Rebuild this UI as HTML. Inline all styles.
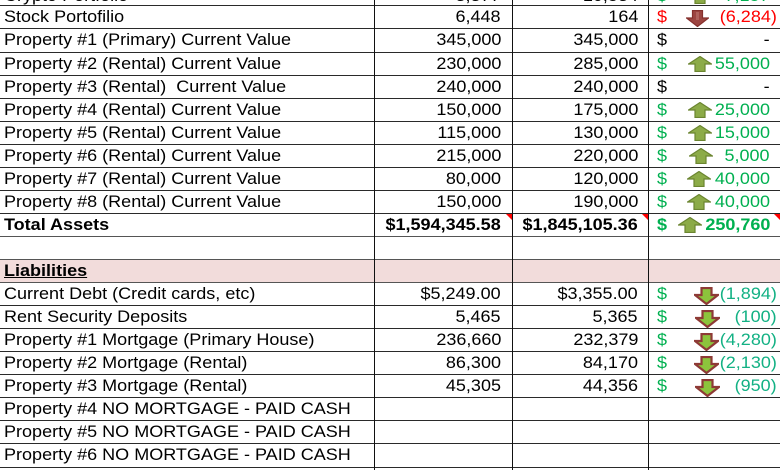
<!DOCTYPE html>
<html>
<head>
<meta charset="utf-8">
<style>
  html,body{margin:0;padding:0;background:#fff;}
  #w{position:relative;width:780px;height:470px;overflow:hidden;background:#fff;font-family:"Liberation Sans",Arial,sans-serif;color:#000;}
  .h{position:absolute;left:0;width:780px;height:1px;background:#2a2a2a;}
  .v{position:absolute;top:0;width:1px;height:470px;background:#111;}
  .c{position:absolute;height:23px;line-height:23px;font-size:17px;white-space:pre;transform:scaleX(1.06);transform-origin:0 0;}
  .r{transform-origin:100% 0;text-align:right;}
  .b{font-weight:bold;}
  .g{color:#00b050;}
  .t{color:#13b184;}
  .red{color:#ff0000;}
  .pink{position:absolute;left:0;width:780px;background:#f2dcdb;}
  svg{position:absolute;}
  .tri{position:absolute;width:0;height:0;border-top:6px solid #ff0000;border-left:6px solid transparent;}
</style>
</head>
<body>
<div id="w">
  <!-- pink Liabilities row -->
  <div class="pink" style="top:259px;height:23px;"></div>

  <!-- horizontal lines -->
  <div class="h" style="top:5px"></div>
  <div class="h" style="top:28px"></div>
  <div class="h" style="top:52px"></div>
  <div class="h" style="top:75px"></div>
  <div class="h" style="top:98px"></div>
  <div class="h" style="top:121px"></div>
  <div class="h" style="top:144px"></div>
  <div class="h" style="top:167px"></div>
  <div class="h" style="top:190px"></div>
  <div class="h" style="top:213px"></div>
  <div class="h" style="top:236px;background:#555"></div>
  <div class="h" style="top:259px;background:#555"></div>
  <div class="h" style="top:282px;background:#555"></div>
  <div class="h" style="top:305px"></div>
  <div class="h" style="top:328px"></div>
  <div class="h" style="top:351px"></div>
  <div class="h" style="top:374px"></div>
  <div class="h" style="top:397px"></div>
  <div class="h" style="top:420px"></div>
  <div class="h" style="top:443px"></div>
  <div class="h" style="top:467px"></div>

  <!-- vertical lines -->
  <div class="v" style="left:374px"></div>
  <div class="v" style="left:512px"></div>
  <div class="v" style="left:648px"></div>

  <!-- partial top row: Crypto Portfolio -->
  <div class="c" style="top:-16px;left:4px">Crypto Portfolio</div>
  <div class="c r" style="top:-16px;right:279px">3,377</div>
  <div class="c r" style="top:-16px;right:142px">10,534</div>
  <div class="c g" style="top:-16px;left:657px">$</div>
  <div class="c r g" style="top:-16px;right:10px">7,157</div>
  <svg style="left:688px;top:-12px" width="24" height="16" viewBox="0 0 24 16"><polygon points="12,0.5 23.5,8 17,8 17,15.5 7,15.5 7,8 0.5,8" fill="#8cab48" stroke="#6b8530" stroke-width="1.2"/></svg>

  <!-- Row 0: Stock -->
  <div class="c" style="top:5px;left:4px">Stock Portofilio</div>
  <div class="c r" style="top:5px;right:279px">6,448</div>
  <div class="c r" style="top:5px;right:142px">164</div>
  <div class="c red" style="top:5px;left:657px">$</div>
  <svg style="left:686px;top:10px" width="23" height="17" viewBox="0 0 23 17"><polygon points="6.5,0.5 16.5,0.5 16.5,8 22.5,8 11.5,16.5 0.5,8 6.5,8" fill="#9c4541" stroke="#85302d" stroke-width="1.2"/><rect x="10" y="2" width="3" height="8" fill="#b0625d"/></svg>
  <div class="c r red" style="top:5px;right:3px">(6,284)</div>

  <!-- Row 1 -->
  <div class="c" style="top:28px;left:4px">Property #1 (Primary) Current Value</div>
  <div class="c r" style="top:28px;right:279px">345,000</div>
  <div class="c r" style="top:28px;right:142px">345,000</div>
  <div class="c" style="top:28px;left:657px">$</div>
  <div class="c r" style="top:28px;right:10px">-</div>

  <!-- Row 2 -->
  <div class="c" style="top:52px;left:4px">Property #2 (Rental) Current Value</div>
  <div class="c r" style="top:52px;right:279px">230,000</div>
  <div class="c r" style="top:52px;right:142px">285,000</div>
  <div class="c g" style="top:52px;left:657px">$</div>
  <svg style="left:688px;top:56px" width="24" height="16" viewBox="0 0 24 16"><polygon points="12,0.5 23.5,8 17,8 17,15.5 7,15.5 7,8 0.5,8" fill="#8cab48" stroke="#6b8530" stroke-width="1.2"/></svg>
  <div class="c r g" style="top:52px;right:10px">55,000</div>

  <!-- Row 3 -->
  <div class="c" style="top:75px;left:4px">Property #3 (Rental)  Current Value</div>
  <div class="c r" style="top:75px;right:279px">240,000</div>
  <div class="c r" style="top:75px;right:142px">240,000</div>
  <div class="c" style="top:75px;left:657px">$</div>
  <div class="c r" style="top:75px;right:10px">-</div>

  <!-- Row 4 -->
  <div class="c" style="top:98px;left:4px">Property #4 (Rental) Current Value</div>
  <div class="c r" style="top:98px;right:279px">150,000</div>
  <div class="c r" style="top:98px;right:142px">175,000</div>
  <div class="c g" style="top:98px;left:657px">$</div>
  <svg style="left:688px;top:102px" width="24" height="16" viewBox="0 0 24 16"><polygon points="12,0.5 23.5,8 17,8 17,15.5 7,15.5 7,8 0.5,8" fill="#8cab48" stroke="#6b8530" stroke-width="1.2"/></svg>
  <div class="c r g" style="top:98px;right:10px">25,000</div>

  <!-- Row 5 -->
  <div class="c" style="top:121px;left:4px">Property #5 (Rental) Current Value</div>
  <div class="c r" style="top:121px;right:279px">115,000</div>
  <div class="c r" style="top:121px;right:142px">130,000</div>
  <div class="c g" style="top:121px;left:657px">$</div>
  <svg style="left:688px;top:125px" width="24" height="16" viewBox="0 0 24 16"><polygon points="12,0.5 23.5,8 17,8 17,15.5 7,15.5 7,8 0.5,8" fill="#8cab48" stroke="#6b8530" stroke-width="1.2"/></svg>
  <div class="c r g" style="top:121px;right:10px">15,000</div>

  <!-- Row 6 -->
  <div class="c" style="top:144px;left:4px">Property #6 (Rental) Current Value</div>
  <div class="c r" style="top:144px;right:279px">215,000</div>
  <div class="c r" style="top:144px;right:142px">220,000</div>
  <div class="c g" style="top:144px;left:657px">$</div>
  <svg style="left:689px;top:148px" width="24" height="16" viewBox="0 0 24 16"><polygon points="12,0.5 23.5,8 17,8 17,15.5 7,15.5 7,8 0.5,8" fill="#8cab48" stroke="#6b8530" stroke-width="1.2"/></svg>
  <div class="c r g" style="top:144px;right:10px">5,000</div>

  <!-- Row 7 -->
  <div class="c" style="top:167px;left:4px">Property #7 (Rental) Current Value</div>
  <div class="c r" style="top:167px;right:279px">80,000</div>
  <div class="c r" style="top:167px;right:142px">120,000</div>
  <div class="c g" style="top:167px;left:657px">$</div>
  <svg style="left:687px;top:171px" width="24" height="16" viewBox="0 0 24 16"><polygon points="12,0.5 23.5,8 17,8 17,15.5 7,15.5 7,8 0.5,8" fill="#8cab48" stroke="#6b8530" stroke-width="1.2"/></svg>
  <div class="c r g" style="top:167px;right:10px">40,000</div>

  <!-- Row 8 -->
  <div class="c" style="top:190px;left:4px">Property #8 (Rental) Current Value</div>
  <div class="c r" style="top:190px;right:279px">150,000</div>
  <div class="c r" style="top:190px;right:142px">190,000</div>
  <div class="c g" style="top:190px;left:657px">$</div>
  <svg style="left:687px;top:194px" width="24" height="16" viewBox="0 0 24 16"><polygon points="12,0.5 23.5,8 17,8 17,15.5 7,15.5 7,8 0.5,8" fill="#8cab48" stroke="#6b8530" stroke-width="1.2"/></svg>
  <div class="c r g" style="top:190px;right:10px">40,000</div>

  <!-- Row 9: Total Assets -->
  <div class="c b" style="top:213px;left:4px">Total Assets</div>
  <div class="c r b" style="top:213px;right:279px">$1,594,345.58</div>
  <div class="c r b" style="top:213px;right:142px">$1,845,105.36</div>
  <div class="c b g" style="top:213px;left:657px">$</div>
  <svg style="left:678px;top:217px" width="24" height="16" viewBox="0 0 24 16"><polygon points="12,0.5 23.5,8 17,8 17,15.5 7,15.5 7,8 0.5,8" fill="#8cab48" stroke="#6b8530" stroke-width="1.2"/></svg>
  <div class="c r b g" style="top:213px;right:10px">250,760</div>
  <div class="tri" style="left:506px;top:214px"></div>
  <div class="tri" style="left:642px;top:214px"></div>
  <div class="tri" style="left:774px;top:214px"></div>

  <!-- Row 11: Liabilities -->
  <div class="c b" style="top:259px;left:4px;text-decoration:underline">Liabilities</div>

  <!-- Row 12 -->
  <div class="c" style="top:282px;left:4px">Current Debt (Credit cards, etc)</div>
  <div class="c r" style="top:282px;right:279px">$5,249.00</div>
  <div class="c r" style="top:282px;right:142px">$3,355.00</div>
  <div class="c g" style="top:282px;left:657px">$</div>
  <svg style="left:694px;top:287px" width="25" height="18" viewBox="0 0 25 18"><polygon points="7.5,1 17.5,1 17.5,8 24,8 12.5,17 1,8 7.5,8" fill="#8cc43c" stroke="#8e3a36" stroke-width="2.2" stroke-linejoin="miter"/></svg>
  <div class="c r t" style="top:282px;right:3px">(1,894)</div>

  <!-- Row 13 -->
  <div class="c" style="top:305px;left:4px">Rent Security Deposits</div>
  <div class="c r" style="top:305px;right:279px">5,465</div>
  <div class="c r" style="top:305px;right:142px">5,365</div>
  <div class="c g" style="top:305px;left:657px">$</div>
  <svg style="left:695px;top:310px" width="25" height="18" viewBox="0 0 25 18"><polygon points="7.5,1 17.5,1 17.5,8 24,8 12.5,17 1,8 7.5,8" fill="#8cc43c" stroke="#8e3a36" stroke-width="2.2"/></svg>
  <div class="c r t" style="top:305px;right:3px">(100)</div>

  <!-- Row 14 -->
  <div class="c" style="top:328px;left:4px">Property #1 Mortgage (Primary House)</div>
  <div class="c r" style="top:328px;right:279px">236,660</div>
  <div class="c r" style="top:328px;right:142px">232,379</div>
  <div class="c g" style="top:328px;left:657px">$</div>
  <svg style="left:694px;top:333px" width="25" height="18" viewBox="0 0 25 18"><polygon points="7.5,1 17.5,1 17.5,8 24,8 12.5,17 1,8 7.5,8" fill="#8cc43c" stroke="#8e3a36" stroke-width="2.2"/></svg>
  <div class="c r t" style="top:328px;right:3px">(4,280)</div>

  <!-- Row 15 -->
  <div class="c" style="top:351px;left:4px">Property #2 Mortgage (Rental)</div>
  <div class="c r" style="top:351px;right:279px">86,300</div>
  <div class="c r" style="top:351px;right:142px">84,170</div>
  <div class="c g" style="top:351px;left:657px">$</div>
  <svg style="left:694px;top:356px" width="25" height="18" viewBox="0 0 25 18"><polygon points="7.5,1 17.5,1 17.5,8 24,8 12.5,17 1,8 7.5,8" fill="#8cc43c" stroke="#8e3a36" stroke-width="2.2"/></svg>
  <div class="c r t" style="top:351px;right:3px">(2,130)</div>

  <!-- Row 16 -->
  <div class="c" style="top:374px;left:4px">Property #3 Mortgage (Rental)</div>
  <div class="c r" style="top:374px;right:279px">45,305</div>
  <div class="c r" style="top:374px;right:142px">44,356</div>
  <div class="c g" style="top:374px;left:657px">$</div>
  <svg style="left:695px;top:379px" width="25" height="18" viewBox="0 0 25 18"><polygon points="7.5,1 17.5,1 17.5,8 24,8 12.5,17 1,8 7.5,8" fill="#8cc43c" stroke="#8e3a36" stroke-width="2.2"/></svg>
  <div class="c r t" style="top:374px;right:3px">(950)</div>

  <!-- Rows 17-19 -->
  <div class="c" style="top:397px;left:4px">Property #4 NO MORTGAGE - PAID CASH</div>
  <div class="c" style="top:420px;left:4px">Property #5 NO MORTGAGE - PAID CASH</div>
  <div class="c" style="top:443px;left:4px">Property #6 NO MORTGAGE - PAID CASH</div>
</div>
</body>
</html>
